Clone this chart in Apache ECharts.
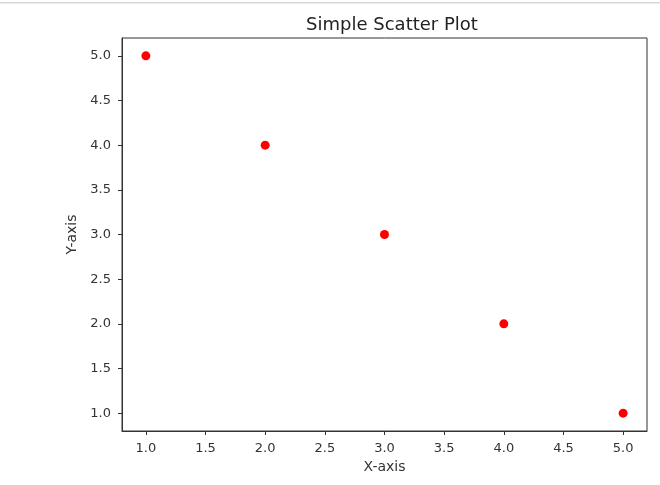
<!DOCTYPE html>
<html>
<head>
<meta charset="utf-8">
<script src="https://cdn.jsdelivr.net/npm/echarts@6/dist/echarts.min.js"></script>
<style>
html,body{margin:0;padding:0;background:#fff;}
#chart{width:660px;height:485px;}
</style>
</head>
<body>
<div id="chart"></div>
<script>
const xValues = [1, 2, 3, 4, 5];
const yValues = [5, 4, 3, 2, 1];
const xTicks = [1.0, 1.5, 2.0, 2.5, 3.0, 3.5, 4.0, 4.5, 5.0];
const yTicks = [1.0, 1.5, 2.0, 2.5, 3.0, 3.5, 4.0, 4.5, 5.0];
const titleText = 'Simple Scatter Plot';
const xName = 'X-axis';
const yName = 'Y-axis';

const font = 'DejaVu Sans';
const chart = echarts.init(document.getElementById('chart'), null, {renderer: 'canvas'});
const data = xValues.map((x, i) => [x, yValues[i]]);

function axisCommon(ticks) {
  return {
    type: 'value',
    min: 0.8,
    max: 5.2,
    splitLine: {show: false},
    axisLine: {show: true, onZero: false, lineStyle: {color: '#333', width: 1}},
    axisTick: {show: true, inside: false, length: 4, customValues: ticks, lineStyle: {color: '#333'}},
    axisLabel: {
      customValues: ticks,
      formatter: v => Number(v).toFixed(1),
      color: '#333', fontFamily: font, fontSize: 13
    }
  };
}

const xAxis = axisCommon(xTicks);
xAxis.axisLabel.margin = 11;
xAxis.name = xName;
xAxis.nameLocation = 'middle';
xAxis.nameGap = 29;
xAxis.nameTextStyle = {color: '#333', fontFamily: font, fontSize: 14};

const yAxis = axisCommon(yTicks);
yAxis.axisLabel.margin = 11;
yAxis.name = yName;
yAxis.nameLocation = 'middle';
yAxis.nameGap = 41;
yAxis.nameRotate = 90;
yAxis.nameTextStyle = {color: '#333', fontFamily: font, fontSize: 14};

chart.setOption({
  animation: false,
  backgroundColor: '#fff',
  title: {
    text: titleText,
    left: 387, top: 11, textAlign: 'center',
    textStyle: {color: '#222', fontFamily: font, fontSize: 18, fontWeight: 'normal'}
  },
  graphic: [{
    type: 'rect', shape: {x: 0, y: 2, width: 660, height: 1.5},
    style: {fill: '#d8d8d8'}, silent: true
  }],
  grid: {left: 122, right: 13, top: 38, bottom: 54, show: true, borderColor: '#333', borderWidth: 1, backgroundColor: 'transparent'},
  xAxis: xAxis,
  yAxis: yAxis,
  series: [{
    type: 'scatter',
    data: data,
    symbolSize: 9,
    itemStyle: {color: '#ff0000', opacity: 1}
  }]
});
</script>
</body>
</html>
